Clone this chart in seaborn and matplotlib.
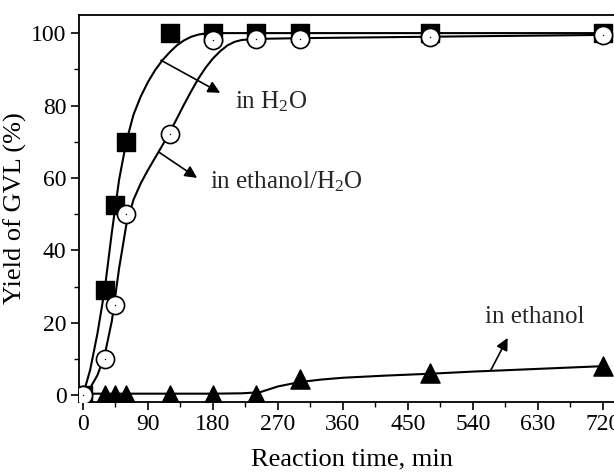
import pandas as pd
import matplotlib
matplotlib.use("Agg")
import matplotlib.pyplot as plt
import seaborn as sns

# measured points
t_h2o = [0, 30, 45, 60, 120, 180, 240, 300, 480, 720]
y_h2o = [0, 29, 52.5, 70, 100, 100, 100, 100, 100, 100]

t_mix = [0, 30, 45, 60, 120, 180, 240, 300, 480, 720]
y_mix = [0, 10, 25, 50, 72, 98, 98.5, 98.5, 99, 99.5]

t_eth = [0, 30, 45, 60, 120, 180, 240, 300, 480, 720]
y_eth = [0, 0, 0, 0, 0, 0, 0, 4.5, 6, 8]

# fitted curves
fit_t_h2o = [0, 10, 20, 30, 40, 50, 60, 70, 80, 90, 100, 110, 120, 130, 140, 150, 160, 170, 180, 240, 480, 720]
fit_y_h2o = [0, 7, 17, 29, 45, 59.5, 70, 77.5, 82.5, 86.5, 89.8, 92.5, 94.7, 96.6, 98, 99, 99.6, 99.9, 100, 100, 100, 100]

fit_t_mix = [0, 10, 20, 30, 40, 50, 60, 70, 80, 90, 100, 110, 120, 130, 140, 150, 160, 170, 180, 190, 200, 210, 220, 240, 300, 480, 720]
fit_y_mix = [0, 2, 5.5, 11, 20.5, 35, 47, 54, 58.5, 62.2, 65.6, 69, 72.5, 76.4, 80.3, 84, 87.5, 90.5, 93, 95, 96.6, 97.6, 98.1, 98.4, 98.6, 99, 99.5]

fit_t_eth = [0, 60, 120, 180, 220, 245, 270, 300, 330, 360, 420, 480, 540, 600, 660, 720]
fit_y_eth = [0.4, 0.4, 0.4, 0.4, 0.5, 0.8, 2.4, 3.6, 4.3, 4.8, 5.4, 5.9, 6.5, 7.0, 7.5, 8.0]

sns.set_style("ticks")
plt.rcParams["font.family"] = ["Liberation Serif", "DejaVu Serif"]
plt.rcParams["mathtext.fontset"] = "custom"
plt.rcParams["mathtext.rm"] = "Liberation Serif"
plt.rcParams["mathtext.it"] = "Liberation Serif:italic"

fig = plt.figure(figsize=(6.14, 4.74), dpi=100)
ax = fig.add_axes([79 / 614, 1 - 402 / 474, (625 - 79) / 614, (402 - 15) / 474])

for ft, fy in [(fit_t_h2o, fit_y_h2o), (fit_t_mix, fit_y_mix), (fit_t_eth, fit_y_eth)]:
    sns.lineplot(data=pd.DataFrame({"t": ft, "y": fy}), x="t", y="y", ax=ax,
                 color="black", linewidth=1.5, sort=False, estimator=None)

sns.scatterplot(data=pd.DataFrame({"t": t_eth, "y": y_eth}), x="t", y="y", ax=ax,
                marker="^", s=190, color="black", edgecolor="black", linewidth=1, zorder=3)
sns.scatterplot(data=pd.DataFrame({"t": t_h2o, "y": y_h2o}), x="t", y="y", ax=ax,
                marker="s", s=150, color="black", edgecolor="black", linewidth=1, zorder=4)
sns.scatterplot(data=pd.DataFrame({"t": t_mix, "y": y_mix}), x="t", y="y", ax=ax,
                marker="o", s=170, color="white", edgecolor="black", linewidth=1.2, zorder=5)
sns.scatterplot(data=pd.DataFrame({"t": t_mix, "y": y_mix}), x="t", y="y", ax=ax,
                marker=".", s=4, color="black", linewidth=0, zorder=6)

ax.set_xlim(-5.5, (625 - 83) / 0.7222)
ax.set_ylim(-1.9, 105)
ax.set_xticks(range(0, 721, 90))
ax.set_xticks(range(45, 721, 90), minor=True)
ax.set_yticks(range(0, 101, 20))
ax.set_yticks(range(10, 101, 20), minor=True)
ax.tick_params(which="major", direction="out", length=6, width=1.2, labelsize=17, color="black", labelcolor="black", pad=3)
ax.tick_params(which="minor", direction="out", length=3.5, width=1.0, color="black")
for s in ax.spines.values():
    s.set_linewidth(1.3)
    s.set_color("black")
ax.spines["right"].set_visible(False)

ax.set_xlabel("Reaction time, min", fontsize=19, color="black", labelpad=9)
ax.set_ylabel("Yield of GVL (%)", fontsize=19, color="black", labelpad=3)

arrow = dict(arrowstyle="-|>", color="black", lw=1.2, mutation_scale=18, shrinkA=0, shrinkB=0)
ax.annotate("", xy=(190, 83.5), xytext=(108, 92.5), arrowprops=arrow)
ax.text(210, 81, "in H$_2$O", fontsize=18, va="center", ha="left")
ax.annotate("", xy=(158, 60), xytext=(106, 67), arrowprops=arrow)
ax.text(176, 59, "in ethanol/H$_2$O", fontsize=18, va="center", ha="left")
ax.annotate("", xy=(588, 15.8), xytext=(565, 7), arrowprops=arrow)
ax.text(557, 21.5, "in ethanol", fontsize=18, va="center", ha="left")

fig.savefig("out.png", dpi=100)
